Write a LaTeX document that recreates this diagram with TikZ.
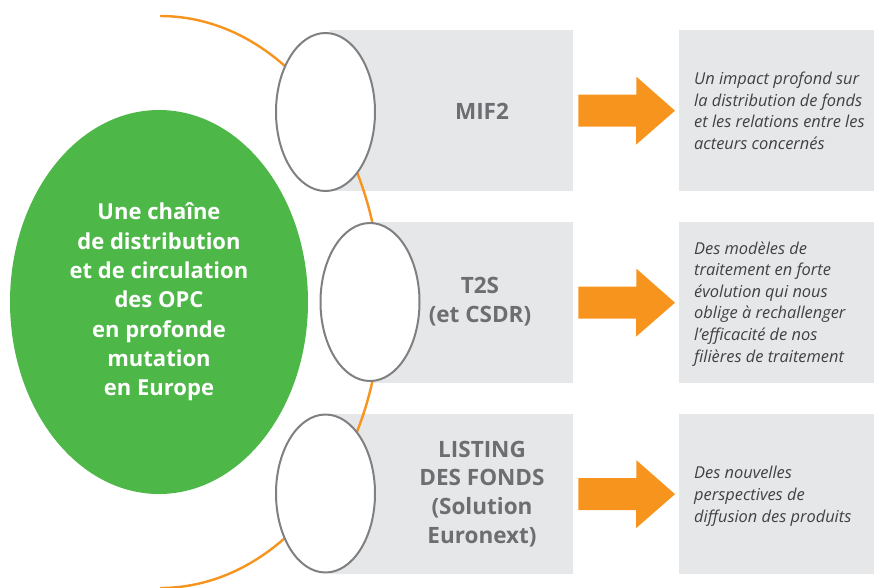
\documentclass[tikz,border=0pt]{standalone}
\usepackage{fontspec}
\setmainfont{Open Sans}
\usetikzlibrary{shapes.geometric,calc}

\definecolor{vertopc}{RGB}{77,184,72}
\definecolor{orangeopc}{RGB}{247,148,29}
\definecolor{fondgris}{RGB}{230,231,232}
\definecolor{contour}{RGB}{128,128,130}
\definecolor{grisfonce}{RGB}{109,110,113}
\definecolor{texteopc}{RGB}{65,64,66}

\tikzset{
  bloc/.style={fill=fondgris, inner sep=0pt, anchor=north west},
  bulle/.style={ellipse, draw=contour, line width=2pt, fill=white, minimum width=99pt, minimum height=158pt, inner sep=0pt},
  titre/.style={text=grisfonce, font=\bfseries\fontsize{22.5}{28.8}\selectfont, align=center},
  effet/.style={text=texteopc, font=\itshape\fontsize{16.4}{21.6}\selectfont, align=left, anchor=west, inner sep=0pt},
  fleche/.style={fill=orangeopc}
}

\begin{document}
\begin{tikzpicture}[x=1pt,y=-1pt]
\useasboundingbox (0,0) rectangle (876,587);

\node[bloc, minimum width=243pt, minimum height=161pt] (b1) at (330,30) {};
\node[bloc, minimum width=201pt, minimum height=161pt] (b2) at (372,222) {};
\node[bloc, minimum width=243pt, minimum height=160pt] (b3) at (330,414) {};
\node[bloc, minimum width=195pt, minimum height=161pt] (r1) at (679,30) {};
\node[bloc, minimum width=195pt, minimum height=161pt] (r2) at (679,222) {};
\node[bloc, minimum width=195pt, minimum height=160pt] (r3) at (679,414) {};

% orange arc linking the three bubbles
\begin{scope}
\clip (160,0) rectangle (876,587);
\draw[orangeopc, line width=2.4pt] (160,302) ellipse [x radius=221pt, y radius=286pt];
\end{scope}

\node[ellipse, fill=vertopc, minimum width=298pt, minimum height=384pt, text=white,
  font=\bfseries\fontsize{22}{29.3}\selectfont, align=center] (centre) at (159,302)
  {Une chaîne\\de distribution\\et de circulation\\des OPC\\en profonde\\mutation\\en Europe};

\node[bulle] (c1) at (325.5,112) {};
\node[bulle] (c2) at (370,302) {};
\node[bulle] (c3) at (325.5,493.5) {};

\node[titre] (t1) at (482,111) {MIF2};
\node[titre] (t2) at (480,302) {T2S\\(et CSDR)};
\node[titre] (t3) at (482,494) {LISTING\\DES FONDS\\(Solution\\Euronext)};

\node[effet] (e1) at ($(r1.west)+(15,0)$) {Un impact profond sur\\la distribution de fonds\\et les relations entre les\\acteurs concernés};
\node[effet] (e2) at ($(r2.west)+(15,1)$) {Des modèles de\\traitement en forte\\évolution qui nous\\oblige à rechallenger\\l’efficacité de nos\\filières de traitement};
\node[effet] (e3) at ($(r3.west)+(15,2)$) {Des nouvelles\\perspectives de\\diffusion des produits};

\foreach \i in {1,2,3}
  \fill[fleche] ($(b\i.east)+(5,-16)$) -- ++(58,0) -- ++(0,-18) -- ($(r\i.west)+(-4,0)$)
    -- ++(-39,34) -- ++(0,-18) -- ($(b\i.east)+(5,16)$) -- cycle;
\end{tikzpicture}
\end{document}
